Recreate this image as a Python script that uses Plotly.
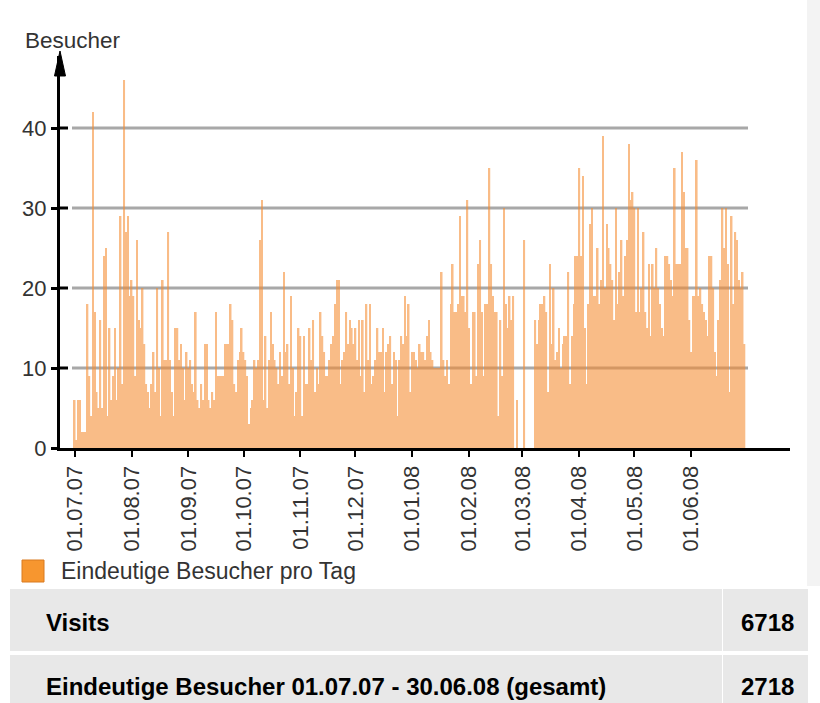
import pandas as pd
import plotly.graph_objects as go

# ---- data: unique visitors per day, 01.07.2007 - 30.06.2008 ----
jul07 = [6,1,6,6,2,2,2,18,9,4,42,17,7,5,16,5,24,25,4,15,6,9,15,6,10,29,8,46,27,29,19]
aug07 = [21,19,9,26,16,15,20,13,8,7,5,8,12,7,20,10,4,21,11,11,27,11,7,4,15,15,11,13,10,6,12]
sep07 = [10,11,8,7,17,6,5,8,6,13,13,6,5,7,6,17,9,9,9,9,13,13,13,18,16,8,7,11,12,15]
oct07 = [12,11,9,3,5,6,11,10,11,26,31,6,14,5,11,17,13,11,10,8,12,9,22,12,13,8,19,10,4,7,15]
nov07 = [14,4,14,8,8,15,11,16,7,10,8,17,14,12,9,9,11,13,14,18,21,21,8,11,12,17,13,16,15,13]
dec07 = [15,11,16,9,16,7,18,11,18,8,9,11,15,12,12,15,7,12,13,14,8,12,11,4,11,14,13,19,14,18,7]
jan08 = [12,12,11,10,13,12,12,11,14,16,12,11,10,10,10,10,22,11,9,11,8,18,23,17,17,18,29,19,19,17,31]
feb08 = [15,8,17,17,9,23,26,17,9,18,18,35,23,19,17,17,4,16,9,30,18,15,19,16,19,0,6,0,0]
mar08 = [0,26,0,0,0,0,0,16,13,16,18,18,19,17,7,23,13,20,11,12,15,10,13,14,14,22,8,14,18,24,24]
apr08 = [35,24,34,15,8,18,28,30,19,19,25,18,21,39,20,28,25,23,21,16,30,18,22,26,19,24,26,38,31,32]
may08 = [30,17,30,17,20,27,17,15,23,14,23,20,25,20,18,15,14,24,24,23,21,19,35,23,23,23,37,32,25,25,16]
jun08 = [12,19,19,36,19,20,18,17,16,14,24,24,20,12,9,16,21,30,25,30,23,7,29,18,27,26,21,20,22,13]

visitors = jul07 + aug07 + sep07 + oct07 + nov07 + dec07 + jan08 + feb08 + mar08 + apr08 + may08 + jun08
days = pd.date_range("2007-07-01", periods=len(visitors), freq="D")

month_ticks = ["2007-07-01","2007-08-01","2007-09-01","2007-10-01","2007-11-01","2007-12-01",
               "2008-01-01","2008-02-01","2008-03-01","2008-04-01","2008-05-01","2008-06-01"]
month_labels = ["01.07.07","01.08.07","01.09.07","01.10.07","01.11.07","01.12.07",
                "01.01.08","01.02.08","01.03.08","01.04.08","01.05.08","01.06.08"]
y_ticks = [0, 10, 20, 30, 40]

series_name = "Eindeutige Besucher pro Tag"
y_title = "Besucher"
table_rows = [("Visits", "6718"),
              ("Eindeutige Besucher 01.07.07 - 30.06.08 (gesamt)", "2718")]

# ---- layout helpers: target-picture pixel -> paper ----
W, H = 820, 716          # page is shown slightly compressed vertically (716 -> 703)
REF_H = 703
def px(x): return x / W
def py(y): return 1 - y / REF_H

FONT = "Liberation Sans, Arial, Helvetica, sans-serif"

fig = go.Figure()
fig.add_trace(go.Bar(
    x=days, y=visitors, name=series_name,
    marker=dict(color="rgb(245,140,50)", line=dict(width=0)),
    opacity=0.58, showlegend=False,
))

x0 = pd.Timestamp("2007-07-01") - pd.Timedelta(days=8.0)
x1 = pd.Timestamp("2007-07-01") + pd.Timedelta(days=389.8)

shapes = []
for v in y_ticks[1:]:
    shapes.append(dict(type="line", xref="paper", yref="y", x0=px(72), x1=px(748),
                       y0=v, y1=v, line=dict(color="#a8a8a8", width=3), layer="below"))
for v in y_ticks[1:]:
    shapes.append(dict(type="line", xref="paper", yref="y", x0=px(60), x1=px(68),
                       y0=v, y1=v, line=dict(color="black", width=3), layer="above"))
shapes.append(dict(type="path", xref="paper", yref="paper",
                   path="M %f,%f L %f,%f L %f,%f Z" % (px(60), py(51), px(54.5), py(76), px(65.5), py(76)),
                   fillcolor="black", line=dict(color="black", width=1)))
shapes.append(dict(type="rect", xref="paper", yref="paper", x0=px(807), x1=1,
                   y0=py(586), y1=1, fillcolor="#f3f3f3", line=dict(width=0), layer="below"))
shapes.append(dict(type="rect", xref="paper", yref="paper", x0=px(22), x1=px(44),
                   y0=py(582), y1=py(560), fillcolor="#f7962f",
                   line=dict(color="#d97a20", width=1)))
row_y = [(589, 651), (655, 703)]
for (ya, yb) in row_y:
    shapes.append(dict(type="rect", xref="paper", yref="paper", x0=px(10), x1=px(722),
                       y0=max(py(yb), 0), y1=py(ya), fillcolor="#e8e8e8", line=dict(width=0), layer="below"))
    shapes.append(dict(type="rect", xref="paper", yref="paper", x0=px(723), x1=px(808),
                       y0=max(py(yb), 0), y1=py(ya), fillcolor="#e8e8e8", line=dict(width=0), layer="below"))

annotations = [
    dict(text=y_title, xref="paper", yref="paper", x=px(23), y=py(40), xanchor="left",
         yanchor="middle", showarrow=False, font=dict(family=FONT, size=22.5, color="#333")),
    dict(text=series_name, xref="paper", yref="paper", x=px(59), y=py(571), xanchor="left",
         yanchor="middle", showarrow=False, font=dict(family=FONT, size=23, color="#333")),
]
for (label, value), yc in zip(table_rows, [622, 686]):
    annotations.append(dict(text="<b>%s</b>" % label, xref="paper", yref="paper", x=px(44), y=py(yc),
                            xanchor="left", yanchor="middle", showarrow=False,
                            font=dict(family=FONT, size=24, color="black")))
    annotations.append(dict(text="<b>%s</b>" % value, xref="paper", yref="paper", x=px(796), y=py(yc),
                            xanchor="right", yanchor="middle", showarrow=False,
                            font=dict(family=FONT, size=24, color="black")))

fig.update_layout(
    width=W, height=H,
    margin=dict(l=0, r=0, t=0, b=0),
    paper_bgcolor="white", plot_bgcolor="rgba(0,0,0,0)",
    bargap=0.12,
    xaxis=dict(domain=[px(60), px(790)], type="date", range=[x0, x1],
               tickvals=month_ticks, ticktext=month_labels, tickangle=-90,
               ticks="outside", ticklen=6, tickwidth=2, tickcolor="black",
               showline=True, linewidth=3, linecolor="black", showgrid=False, zeroline=False,
               tickfont=dict(family=FONT, size=22, color="#333")),
    yaxis=dict(domain=[py(448), py(56)], range=[0, 49], tickvals=y_ticks,
               ticks="outside", ticklen=6, tickwidth=3, tickcolor="black",
               ticklabelstandoff=0,
               showline=True, linewidth=3, linecolor="black", showgrid=False, zeroline=False,
               tickfont=dict(family=FONT, size=22, color="#333")),
    shapes=shapes, annotations=annotations,
)

post = ("document.documentElement.style.margin='0';document.body.style.margin='0';")
fig.write_html("out.html", post_script=post, config={"displayModeBar": False})
